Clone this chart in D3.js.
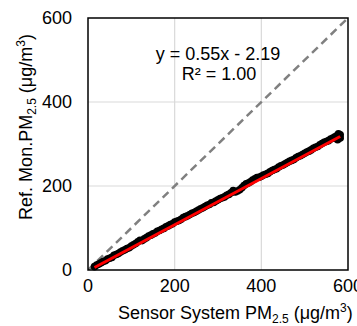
<!DOCTYPE html>
<html><head><meta charset="utf-8">
<script src="https://cdn.jsdelivr.net/npm/d3@7"></script>
<style>body{margin:0;background:#fff}svg{display:block;font-family:"Liberation Sans",Arial,sans-serif}</style>
</head><body><svg id="c" width="357" height="326"></svg>
<script>
const xTicks = [0, 200, 400, 600];
const yTicks = [0, 200, 400, 600];
const sensorX = [15,20,25,30,35,40,45,50,55,60,65,70,75,80,85,90,95,100,105,110,115,120,125,130,135,140,145,150,155,160,165,170,175,180,185,190,195,200,205,210,215,220,225,230,235,240,245,250,255,260,265,270,275,280,285,290,295,300,305,310,315,320,325,330,335,338,340,345,350,355,360,365,370,375,380,385,390,395,400,405,410,415,420,425,430,435,440,445,450,455,460,465,470,475,480,485,490,495,500,505,510,515,520,525,530,535,540,545,550,555,560,565,570,575,576,578,580,582,582];
const refY = [8,12,14,17,20,22,26,28,30,35,37,39,43,46,48,51,53,57,60,63,67,71,70,74,77,81,83,86,88,92,94,97,99,103,105,108,110,114,116,118,121,125,127,129,132,135,137,140,143,146,148,151,154,156,160,161,164,167,170,172,174,178,180,184,189,187,186,188,191,196,201,205,207,210,214,217,220,221,223,226,228,230,234,237,239,241,245,248,250,253,256,259,261,263,267,270,272,275,278,281,283,286,290,292,294,298,301,304,306,308,312,314,317,320,310,324,319,322,314];
const fitSlope = 0.55, fitIntercept = -2.19;
const eqText = "y = 0.55x - 2.19";
const r2Text = "R² = 1.00";

const svg = d3.select("#c");
const L = 88, R = 348, T = 18, B = 270;
const x = d3.scaleLinear().domain([0, 600]).range([L, R]);
const y = d3.scaleLinear().domain([0, 600]).range([B, T]);

// grid
svg.append("g").selectAll("line").data(xTicks.slice(1, -1)).join("line")
  .attr("x1", d => x(d)).attr("x2", d => x(d)).attr("y1", T).attr("y2", B)
  .attr("stroke", "#d9d9d9").attr("stroke-width", 1.2);
svg.append("g").selectAll("line").data(yTicks.slice(1, -1)).join("line")
  .attr("y1", d => y(d)).attr("y2", d => y(d)).attr("x1", L).attr("x2", R)
  .attr("stroke", "#d9d9d9").attr("stroke-width", 1.2);

svg.append("clipPath").attr("id", "clip").append("rect")
  .attr("x", L).attr("y", T).attr("width", R - L).attr("height", B - T);

// 1:1 line
svg.append("line").attr("clip-path", "url(#clip)")
  .attr("x1", x(0)).attr("y1", y(0)).attr("x2", x(600)).attr("y2", y(600))
  .attr("stroke", "#808080").attr("stroke-width", 2.5).attr("stroke-dasharray", "8,5");

// points
const pts = sensorX.map((v, i) => [v, refY[i]]);
svg.append("g").selectAll("circle").data(pts).join("circle")
  .attr("cx", d => x(d[0])).attr("cy", d => y(d[1])).attr("r", 3.8).attr("fill", "#000");

// fit line
const xMin = d3.min(sensorX), xMax = d3.max(sensorX);
svg.append("line")
  .attr("x1", x(xMin)).attr("y1", y(fitSlope * xMin + fitIntercept))
  .attr("x2", x(xMax)).attr("y2", y(fitSlope * xMax + fitIntercept))
  .attr("stroke", "#ff0000").attr("stroke-width", 3);

// frame
svg.append("rect").attr("x", L).attr("y", T).attr("width", R - L).attr("height", B - T)
  .attr("fill", "none").attr("stroke", "#000").attr("stroke-width", 1.5);

// tick labels
svg.append("g").selectAll("text").data(yTicks).join("text")
  .attr("x", 72).attr("y", d => y(d)).attr("dy", "0.36em").attr("text-anchor", "end")
  .attr("font-size", 18).attr("fill", "#000").text(d => d);
svg.append("g").selectAll("text").data(xTicks).join("text")
  .attr("x", d => x(d)).attr("y", 292).attr("text-anchor", "middle")
  .attr("font-size", 18).attr("fill", "#000").text(d => d);

// equation
svg.append("text").attr("x", 218).attr("y", 60).attr("text-anchor", "middle")
  .attr("font-size", 18).text(eqText);
svg.append("text").attr("x", 219).attr("y", 80).attr("text-anchor", "middle")
  .attr("font-size", 18).text(r2Text);

// x title
const xt = svg.append("text").attr("x", 118).attr("y", 319).attr("font-size", 18);
xt.append("tspan").text("Sensor System PM");
xt.append("tspan").attr("font-size", 12).attr("dy", 4).text("2.5");
xt.append("tspan").attr("dy", -4).text(" (μg/m");
xt.append("tspan").attr("font-size", 12).attr("dy", -7).text("3");
xt.append("tspan").attr("dy", 7).text(")");

// y title
const yt = svg.append("text").attr("transform", "translate(32,127) rotate(-90)")
  .attr("text-anchor", "middle").attr("font-size", 18);
yt.append("tspan").text("Ref. Mon.PM");
yt.append("tspan").attr("font-size", 12).attr("dy", 4).text("2.5");
yt.append("tspan").attr("dy", -4).text(" (μg/m");
yt.append("tspan").attr("font-size", 12).attr("dy", -7).text("3");
yt.append("tspan").attr("dy", 7).text(")");
</script></body></html>
